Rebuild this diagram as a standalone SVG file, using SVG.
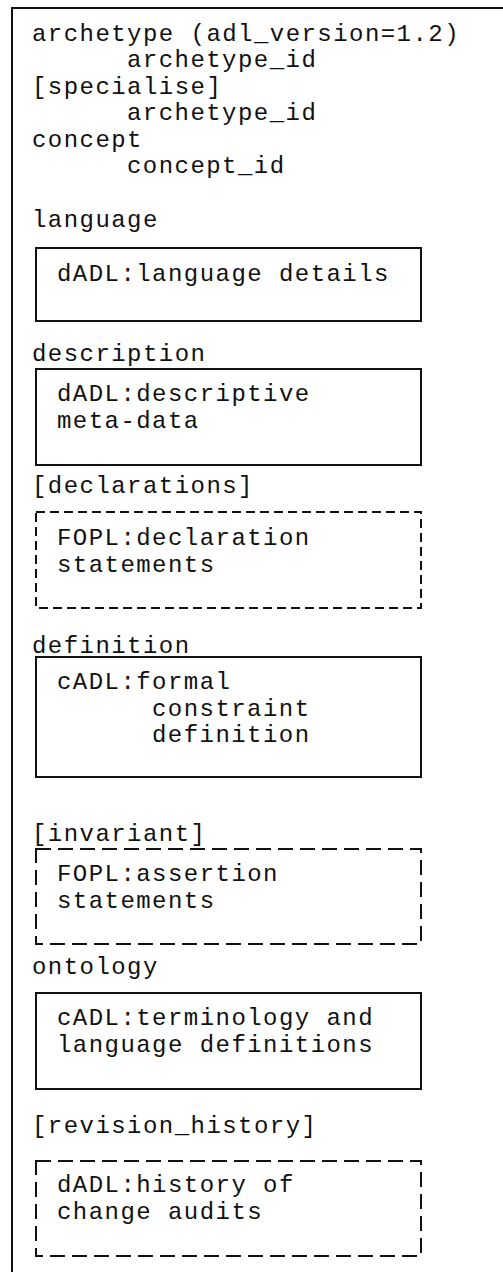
<svg xmlns="http://www.w3.org/2000/svg" width="503" height="1272" viewBox="0 0 503 1272">
  <style>
    text { font-family: "Liberation Mono", "Courier New", monospace; font-size: 24px; letter-spacing: 1.45px; fill: #111; }
    .box { fill: none; stroke: #111; stroke-width: 2; }
    .opt { fill: none; stroke: #111; stroke-width: 2; stroke-dasharray: 9 5; }
    .opt2 { fill: none; stroke: #111; stroke-width: 2; stroke-dasharray: 15 7; }
    .frame { fill: none; stroke: #111; stroke-width: 2; }
  </style>
  <rect width="503" height="1272" fill="#fff"/>

  <!-- outer frame: only top and left edges fall inside the page -->
  <g id="frame">
    <polyline class="frame" points="12,1272 12,8 503,8"/>
  </g>

  <g id="header">
    <text x="32" y="41">archetype (adl_version=1.2)</text>
    <text x="127" y="67">archetype_id</text>
    <text x="32" y="94">[specialise]</text>
    <text x="127" y="120">archetype_id</text>
    <text x="32" y="147">concept</text>
    <text x="127" y="173">concept_id</text>
  </g>

  <g id="language">
    <text x="32" y="227">language</text>
    <rect class="box" x="36" y="248" width="385" height="73"/>
    <text x="57" y="281">dADL:language details</text>
  </g>

  <g id="description">
    <text x="32" y="361">description</text>
    <rect class="box" x="36" y="369" width="385" height="96"/>
    <text x="57" y="401">dADL:descriptive</text>
    <text x="57" y="428">meta-data</text>
  </g>

  <g id="declarations">
    <text x="32" y="493">[declarations]</text>
    <rect class="opt" x="36" y="512" width="385" height="96"/>
    <text x="57" y="545">FOPL:declaration</text>
    <text x="57" y="572">statements</text>
  </g>

  <g id="definition">
    <text x="32" y="653">definition</text>
    <rect class="box" x="36" y="657" width="385" height="120"/>
    <text x="57" y="689">cADL:formal</text>
    <text x="152" y="716">constraint</text>
    <text x="152" y="742">definition</text>
  </g>

  <g id="invariant">
    <text x="32" y="841">[invariant]</text>
    <rect class="opt2" x="36" y="849" width="385" height="95"/>
    <text x="57" y="881">FOPL:assertion</text>
    <text x="57" y="908">statements</text>
  </g>

  <g id="ontology">
    <text x="32" y="974">ontology</text>
    <rect class="box" x="36" y="993" width="385" height="96"/>
    <text x="57" y="1025">cADL:terminology and</text>
    <text x="57" y="1052">language definitions</text>
  </g>

  <g id="revision_history">
    <text x="32" y="1133">[revision_history]</text>
    <rect class="opt2" x="36" y="1161" width="385" height="95"/>
    <text x="57" y="1192">dADL:history of</text>
    <text x="57" y="1219">change audits</text>
  </g>

  <g id="connectors"></g>
</svg>
